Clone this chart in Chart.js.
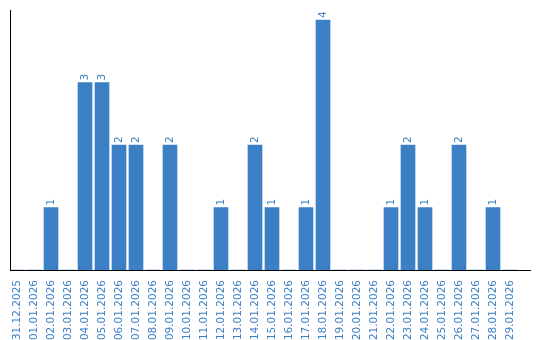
<!DOCTYPE html>
<html><head><meta charset="utf-8">
<script src="https://cdn.jsdelivr.net/npm/chart.js@4.4.1/dist/chart.umd.min.js"></script>
<style>html,body{margin:0;padding:0;background:#fff}#wrap{width:540px;height:340px}</style>
</head><body><div id="wrap"><canvas id="c" width="540" height="340"></canvas></div>
<script>
const categories = ["31.12.2025","01.01.2026","02.01.2026","03.01.2026","04.01.2026","05.01.2026","06.01.2026","07.01.2026","08.01.2026","09.01.2026","10.01.2026","11.01.2026","12.01.2026","13.01.2026","14.01.2026","15.01.2026","16.01.2026","17.01.2026","18.01.2026","19.01.2026","20.01.2026","21.01.2026","22.01.2026","23.01.2026","24.01.2026","25.01.2026","26.01.2026","27.01.2026","28.01.2026","29.01.2026"];
const counts = [0,0,1,0,3,3,2,2,0,2,0,0,1,0,2,1,0,1,4,0,0,0,1,2,1,0,2,0,1,0];
const BLUE = '#3b7fc4';
const FONT = '"DejaVu Sans", Verdana, sans-serif';

const deco = {
  id: 'deco',
  afterDatasetsDraw(chart) {
    const ctx = chart.ctx, a = chart.chartArea;
    ctx.save();
    ctx.fillStyle = '#000';
    const ax = Math.floor(a.left) + 2;
    ctx.fillRect(ax, Math.round(a.top), 1, Math.round(a.bottom) - Math.round(a.top) + 1);
    ctx.fillRect(ax, Math.round(a.bottom), Math.round(a.right) + 12 - ax, 1);
    const meta = chart.getDatasetMeta(0);
    ctx.fillStyle = BLUE;
    ctx.font = '10.5px ' + FONT;
    ctx.textAlign = 'left';
    ctx.textBaseline = 'middle';
    meta.data.forEach((bar, i) => {
      const v = counts[i];
      if (!v) return;
      ctx.save();
      ctx.translate(bar.x, bar.y - 2);
      ctx.rotate(-Math.PI / 2);
      ctx.fillText(String(v), 0, 0);
      ctx.restore();
    });
    ctx.restore();
  }
};

new Chart(document.getElementById('c'), {
  type: 'bar',
  data: { labels: categories, datasets: [{ data: counts, backgroundColor: BLUE, barThickness: 14 }] },
  options: {
    responsive: false, animation: false, devicePixelRatio: 1,
    layout: { padding: { left: 8.5, right: 21.5, top: 10, bottom: 0 } },
    plugins: { legend: { display: false }, tooltip: { enabled: false } },
    scales: {
      x: {
        grid: { display: false }, border: { display: false },
        ticks: { color: BLUE, font: { family: FONT, size: 10.5 }, minRotation: 90, maxRotation: 90, autoSkip: false, padding: 2 },
        afterFit(s) { s.height = 70; }
      },
      y: { display: false, min: 0, max: Math.max(...counts) * 1.04 }
    }
  },
  plugins: [deco]
});
</script></body></html>
